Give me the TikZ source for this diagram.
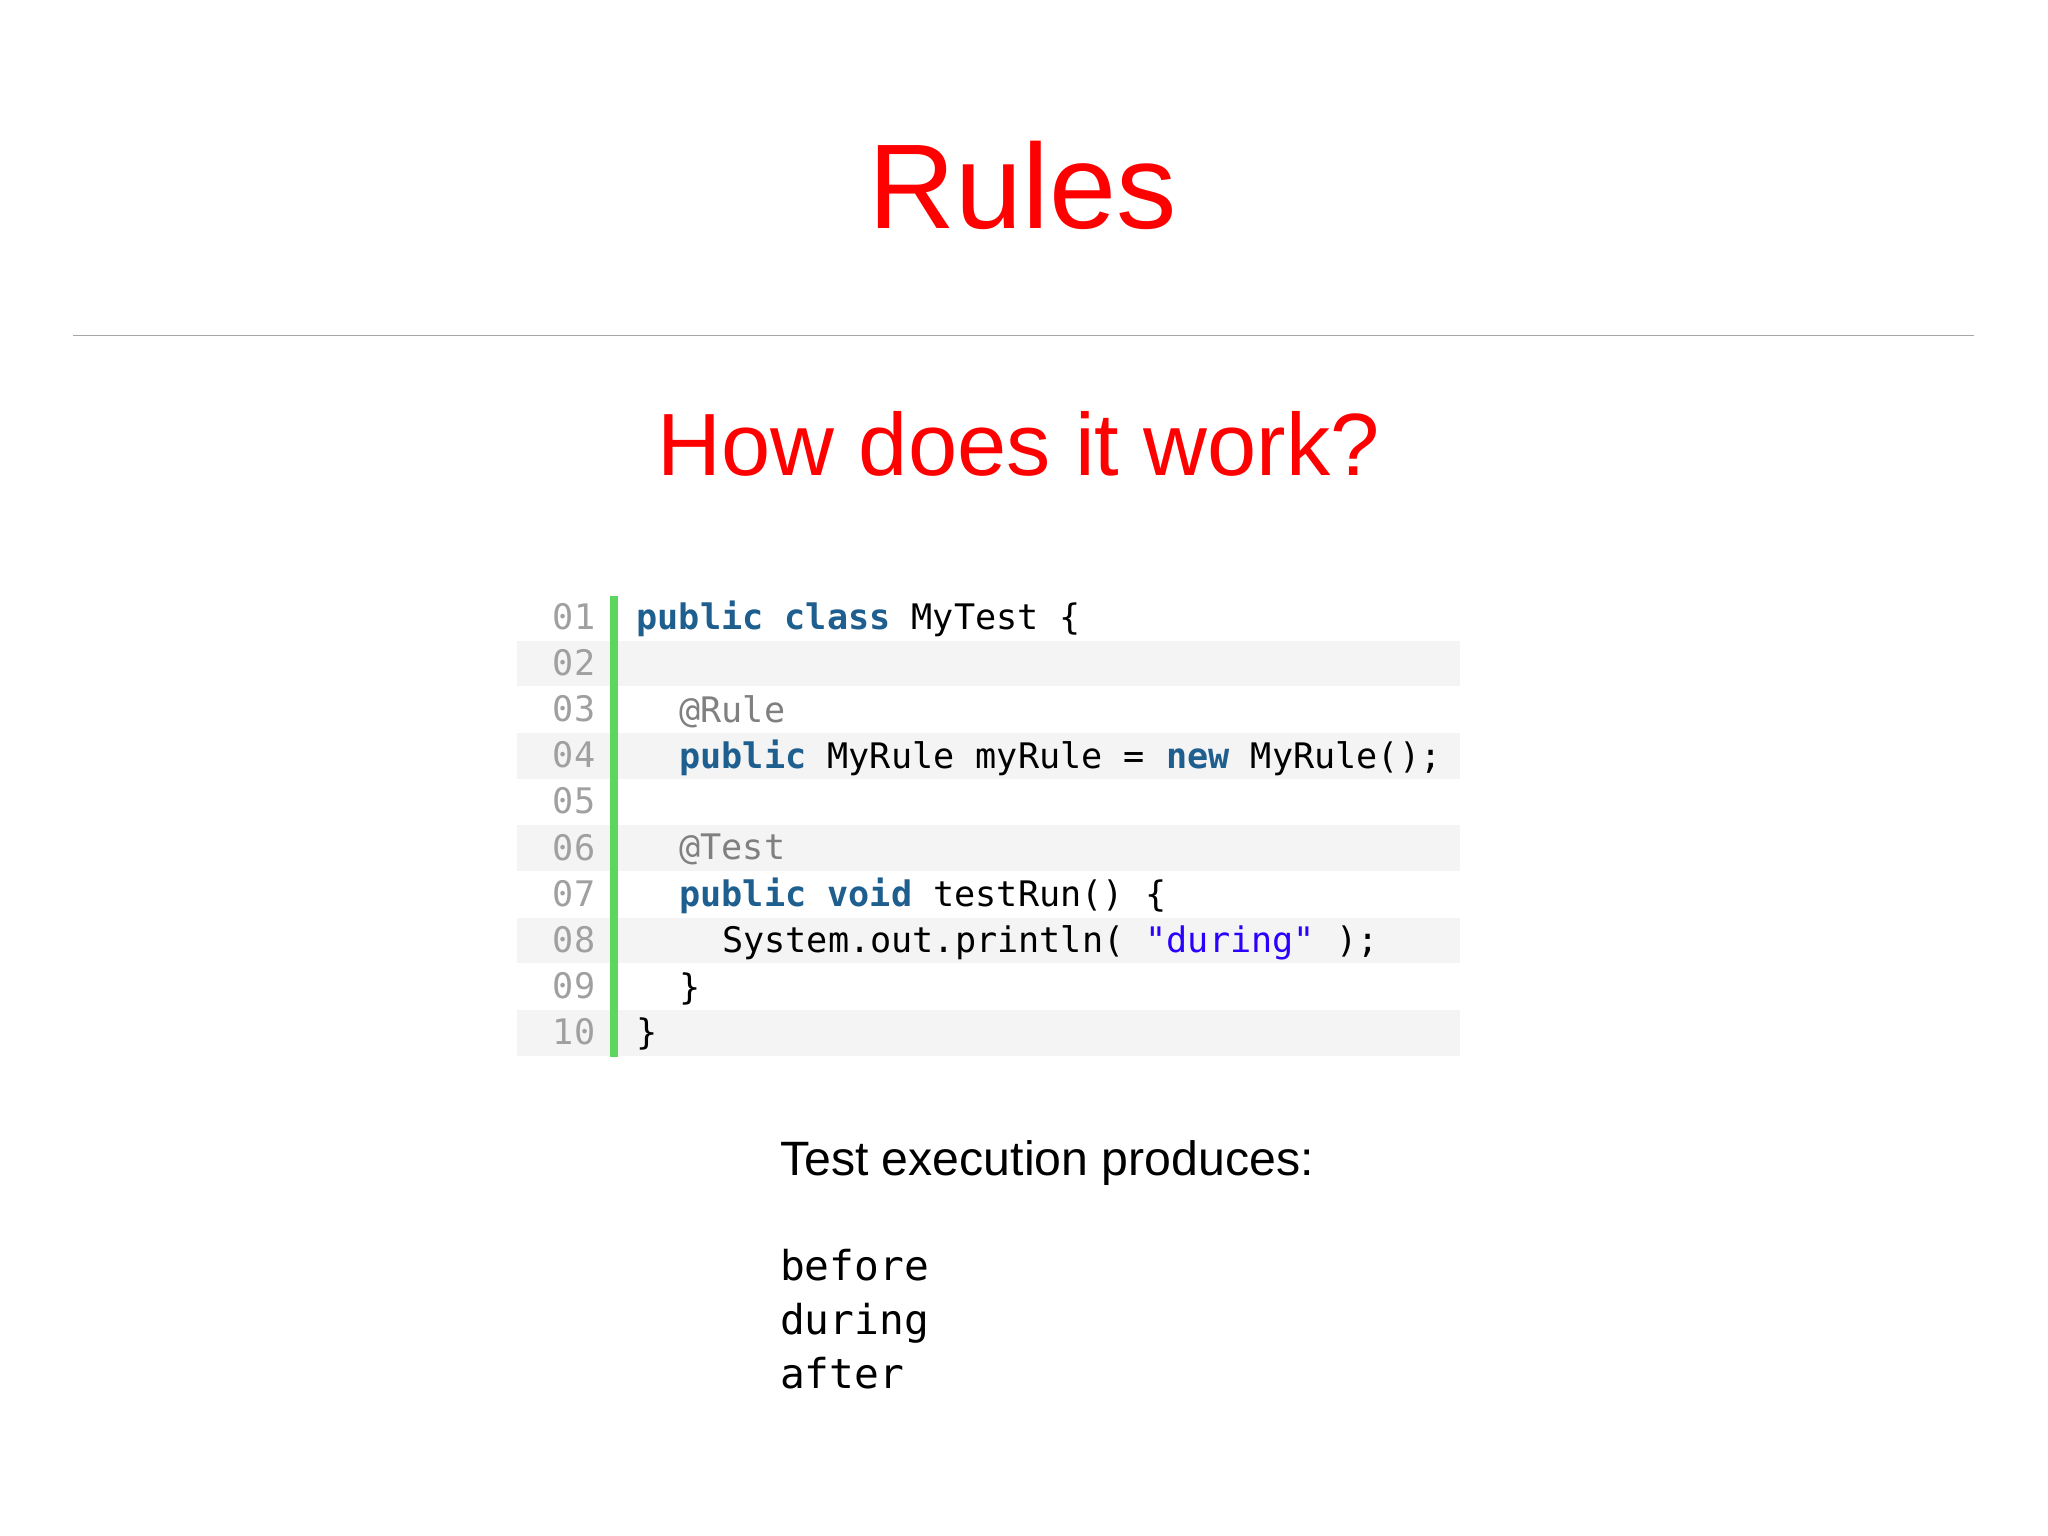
\documentclass[tikz,border=0pt]{standalone}
\usepackage{fontspec}
\setmainfont{Liberation Sans}
\newfontfamily\codefont{DejaVu Sans Mono}
\definecolor{kw}{HTML}{1F5F8F}
\definecolor{ann}{HTML}{808080}
\definecolor{str}{HTML}{2A00FF}
\definecolor{lnum}{HTML}{A0A0A0}
\definecolor{rowbg}{HTML}{F4F4F4}
\definecolor{bar}{HTML}{5CD65C}
\begin{document}
\begin{tikzpicture}[x=0.65pt,y=-0.65pt,
  code/.style={anchor=base west,inner sep=0pt,font=\codefont\fontsize{17.5pt}{20pt}\selectfont},
  num/.style={anchor=base east,inner sep=0pt,text=lnum,font=\codefont\fontsize{17.5pt}{20pt}\selectfont},
  k/.style={}]
\useasboundingbox (0,0) rectangle (1568,1175.3);
\fill[white] (0,0) rectangle (1568,1175.3);
\node[text=red,font=\fontsize{60pt}{70pt}\selectfont,inner sep=0pt] (title) at (783,142) {Rules};
\coordinate (l1) at (56,257); \coordinate (l2) at (1511,257);
\draw[gray!70,line width=0.6pt] (l1) -- (l2);
\node[text=red,font=\fontsize{44pt}{50pt}\selectfont,inner sep=0pt] (sub) at (780,340) {How does it work?};
\foreach \y in {508,579,649,720,791}{\fill[rowbg] (396,\y-17.5) rectangle (1118,\y+17.5);}
\fill[bar] (467,456) rectangle (473,809);
\foreach \n [count=\i] in {01,02,03,04,05,06,07,08,09,10}{
  \node[num] (n\i) at (456,{473+(\i-1)*35.3+9}) {\n};}
\newcommand\K[1]{\textcolor{kw}{\bfseries #1}}
\node[code] (c1) at (487,482) {\K{public} \K{class} MyTest \{};
\node[code] (c3) at (519.8,553) {\textcolor{ann}{@Rule}};
\node[code] (c4) at (519.8,588) {\K{public} MyRule myRule = \K{new} MyRule();};
\node[code] (c6) at (519.8,658) {\textcolor{ann}{@Test}};
\node[code] (c7) at (519.8,694) {\K{public} \K{void} testRun() \{};
\node[code] (c8) at (552.6,729) {System.out.println( \textcolor{str}{"during"} );};
\node[code] (c9) at (519.8,765) {\}};
\node[code] (c10) at (487,800) {\}};
\node[anchor=base west,inner sep=0pt,font=\fontsize{24pt}{28pt}\selectfont] (te) at (597,900) {Test execution produces:};
\node[anchor=base west,inner sep=0pt,font=\codefont\fontsize{20.5pt}{27pt}\selectfont,align=left] (out) at (597,980) {before};
\node[anchor=base west,inner sep=0pt,font=\codefont\fontsize{20.5pt}{27pt}\selectfont] (out2) at (597,1022) {during};
\node[anchor=base west,inner sep=0pt,font=\codefont\fontsize{20.5pt}{27pt}\selectfont] (out3) at (597,1063) {after};
\end{tikzpicture}
\end{document}
